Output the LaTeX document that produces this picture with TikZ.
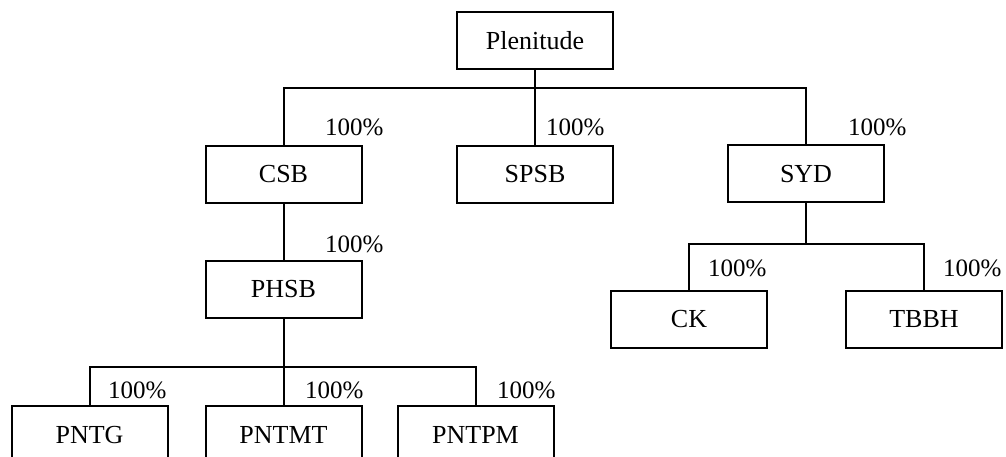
\documentclass[tikz,border=0pt]{standalone}
\usepackage{fontspec}
\setmainfont{Liberation Serif}
\begin{document}
\begin{tikzpicture}[x=1pt,y=-1pt,
  box/.style={draw,line width=2pt,minimum width=156pt,minimum height=57pt,inner sep=0pt,font=\fontsize{26}{30}\selectfont},
  pct/.style={anchor=base west,inner sep=0pt,font=\fontsize{25}{30}\selectfont},
  conn/.style={line width=2pt}]
\clip (0,0) rectangle (1006,457);
\fill[white] (0,0) rectangle (1006,457);
% boxes
\node[box] (plen) at (535,41) {Plenitude};
\node[box] (csb) at (283.5,174.5) {CSB};
\node[box] (spsb) at (535,174.5) {SPSB};
\node[box] (syd) at (806,174) {SYD};
\node[box] (phsb) at (283.5,289) {PHSB};
\node[box] (ck) at (689,319.5) {CK};
\node[box] (tbbh) at (924,319.5) {TBBH};
\node[box,minimum height=58pt] (pntg) at (89.5,435) {PNTG};
\node[box,minimum height=58pt] (pntmt) at (283.5,435) {PNTMT};
\node[box,minimum height=58pt] (pntpm) at (475.5,435) {PNTPM};
% buses
\coordinate (bus1) at (535,88);
\coordinate (bus2) at (806,244);
\coordinate (bus3) at (283.5,367);
% connectors
\draw[conn] (plen.south) -- (spsb.north);
\draw[conn] (csb.north) |- (bus1) -| (syd.north);
\draw[conn] (csb.south) -- (phsb.north);
\draw[conn] (syd.south) -- (bus2);
\draw[conn] (ck.north) |- (bus2) -| (tbbh.north);
\draw[conn] (phsb.south) -- (pntmt.north);
\draw[conn] (pntg.north) |- (bus3) -| (pntpm.north);
% labels
\node[pct] (l1) at (325,136) {100\%};
\node[pct] (l2) at (546,136) {100\%};
\node[pct] (l3) at (848,136) {100\%};
\node[pct] (l4) at (325,252) {100\%};
\node[pct] (l5) at (708,276) {100\%};
\node[pct] (l6) at (943,276) {100\%};
\node[pct] (l7) at (108,398) {100\%};
\node[pct] (l8) at (305,398) {100\%};
\node[pct] (l9) at (497,398) {100\%};
\end{tikzpicture}
\end{document}
